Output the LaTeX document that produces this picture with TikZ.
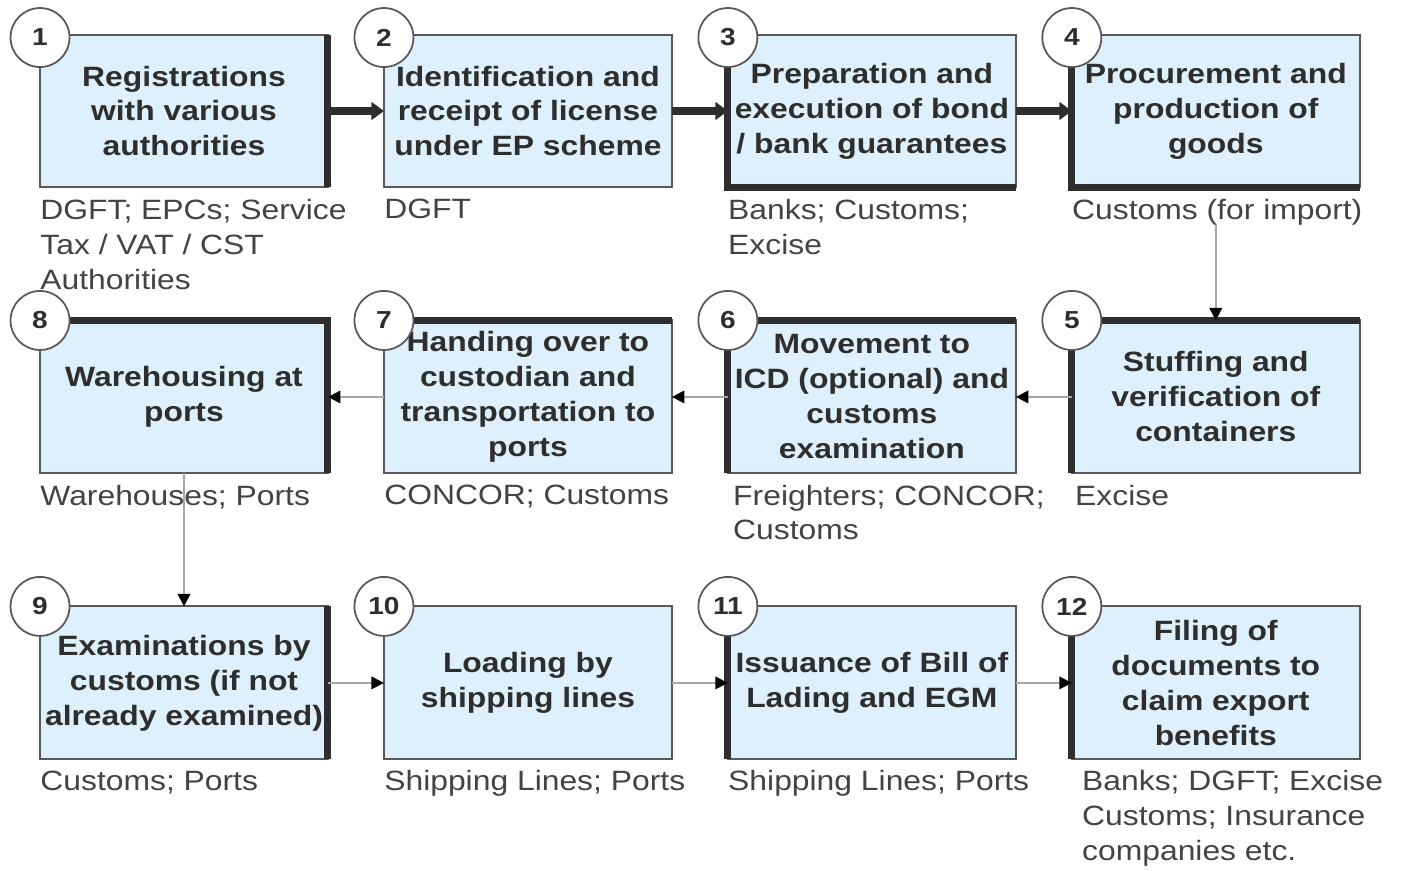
\documentclass[tikz,border=0pt]{standalone}
\usepackage{fontspec}
\setmainfont{Liberation Sans}[FakeStretch=1.14]
\usetikzlibrary{arrows.meta, positioning}
\definecolor{boxblue}{HTML}{DDF0FB}
\definecolor{ink}{HTML}{2E2E2E}
\tikzset{
  StepBox/.style = {
    draw = ink!80, line width = 0.04cm, fill = boxblue,
    minimum width = 5.76cm, minimum height = 3.06cm,
    inner sep = 0pt, outer sep = 0pt, align = center, text = ink,
    font = \bfseries\fontsize{15.9}{19.9}\selectfont,
  },
  Agency/.style = {
    anchor = north west, inner sep = 0pt, align = left, text = ink!90,
    font = \fontsize{15.9}{19.9}\selectfont,
  },
  Num/.style = {
    circle, draw = ink!80, line width = 0.035cm, fill = white,
    minimum size = 1.18cm, inner sep = 0pt, text = ink,
    font = \bfseries\fontsize{14}{16}\selectfont,
  },
  Heavy/.style = {draw = ink, line width = 0.14cm},
  ThickArrow/.style = {
    draw = ink, line width = 0.15cm,
    -{Triangle[length = 2.5mm, width = 3.5mm]},
  },
  ThinArrow/.style = {
    draw = black!35, line width = 0.04cm,
    -{Triangle[length = 2.5mm, width = 2.5mm, black]},
  }
}

\begin{document}
\begin{tikzpicture}[x = 0.02cm, y = -0.02cm]
  \useasboundingbox (0,0) rectangle (1411,870);
  % row 1
  \node[StepBox] (s1) at (184,111) {Registrations\\with various\\authorities};
  \node[StepBox, right = 1.12cm of s1] (s2) {Identification and\\receipt of license\\under EP scheme};
  \node[StepBox, right = 1.12cm of s2] (s3) {Preparation and\\execution of bond\\/ bank guarantees};
  \node[StepBox, right = 1.12cm of s3] (s4) {Procurement and\\production of\\goods};
  % row 2
  \node[StepBox, below = 2.66cm of s4] (s5) {Stuffing and\\verification of\\containers};
  \node[StepBox, left = 1.12cm of s5] (s6) {Movement to\\ICD (optional) and\\customs\\examination};
  \node[StepBox, left = 1.12cm of s6] (s7) {Handing over to\\custodian and\\transportation to\\ports};
  \node[StepBox, left = 1.12cm of s7] (s8) {Warehousing at\\ports};
  % row 3
  \node[StepBox, below = 2.66cm of s8] (s9) {Examinations by\\customs (if not\\already examined)};
  \node[StepBox, right = 1.12cm of s9] (s10) {Loading by\\shipping lines};
  \node[StepBox, right = 1.12cm of s10] (s11) {Issuance of Bill of\\Lading and EGM};
  \node[StepBox, right = 1.12cm of s11] (s12) {Filing of\\documents to\\claim export\\benefits};

  % heavy edges
  \draw[Heavy] (s1.north east) -- (s1.south east);
  \draw[Heavy] (s3.north west) -- (s3.south west) -- (s3.south east);
  \draw[Heavy] (s4.north west) -- (s4.south west) -- (s4.south east);
  \draw[Heavy] (s5.south west) -- (s5.north west) -- (s5.north east);
  \draw[Heavy] (s6.south west) -- (s6.north west) -- (s6.north east);
  \draw[Heavy] (s7.north west) -- (s7.north east);
  \draw[Heavy] (s8.north west) -- (s8.north east) -- (s8.south east);
  \draw[Heavy] (s9.north east) -- (s9.south east);
  \draw[Heavy] (s11.north west) -- (s11.south west);
  \draw[Heavy] (s12.north west) -- (s12.south west);

  % who is involved
  \node[Agency] (l1) at ([yshift=-0.22cm]s1.south west) {DGFT; EPCs; Service\\Tax / VAT / CST\\Authorities};
  \node[Agency] (l2) at ([yshift=-0.22cm]s2.south west) {DGFT};
  \node[Agency] (l3) at ([yshift=-0.22cm]s3.south west) {Banks; Customs;\\Excise};
  \node[Agency] (l4) at ([yshift=-0.22cm]s4.south west) {Customs (for import)};
  \node[Agency] (l5) at ([xshift=0.06cm, yshift=-0.22cm]s5.south west) {Excise};
  \node[Agency] (l6) at ([xshift=0.1cm, yshift=-0.22cm]s6.south west) {Freighters; CONCOR;\\Customs};
  \node[Agency] (l7) at ([yshift=-0.22cm]s7.south west) {CONCOR; Customs};
  \node[Agency] (l8) at ([yshift=-0.22cm]s8.south west) {Warehouses; Ports};
  \node[Agency] (l9) at ([yshift=-0.22cm]s9.south west) {Customs; Ports};
  \node[Agency] (l10) at ([yshift=-0.22cm]s10.south west) {Shipping Lines; Ports};
  \node[Agency] (l11) at ([yshift=-0.22cm]s11.south west) {Shipping Lines; Ports};
  \node[Agency] (l12) at ([xshift=0.2cm, yshift=-0.22cm]s12.south west) {Banks; DGFT; Excise\\Customs; Insurance\\companies etc.};

  % flow
  \draw[ThickArrow] (s1) -- (s2);
  \draw[ThickArrow] (s2) -- (s3);
  \draw[ThickArrow] (s3) -- (s4);
  \draw[ThinArrow] (s5.north |- l4.south) -- (s5.north);
  \draw[ThinArrow] (s5) -- (s6);
  \draw[ThinArrow] (s6) -- (s7);
  \draw[ThinArrow] (s7) -- (s8);
  \draw[ThinArrow] (s8) -- (s9);
  \draw[ThinArrow] (s9) -- (s10);
  \draw[ThinArrow] (s10) -- (s11);
  \draw[ThinArrow] (s11) -- (s12);

  % step numbers
  \node[Num] (n1) at ([yshift=-0.06cm]s1.north west) {1};
  \node[Num] (n2) at ([yshift=-0.06cm]s2.north west) {2};
  \node[Num] (n3) at ([yshift=-0.06cm]s3.north west) {3};
  \node[Num] (n4) at ([yshift=-0.06cm]s4.north west) {4};
  \node[Num] (n5) at (s5.north west) {5};
  \node[Num] (n6) at (s6.north west) {6};
  \node[Num] (n7) at (s7.north west) {7};
  \node[Num] (n8) at (s8.north west) {8};
  \node[Num] (n9) at (s9.north west) {9};
  \node[Num] (n10) at (s10.north west) {10};
  \node[Num] (n11) at (s11.north west) {11};
  \node[Num] (n12) at (s12.north west) {12};
\end{tikzpicture}
\end{document}
